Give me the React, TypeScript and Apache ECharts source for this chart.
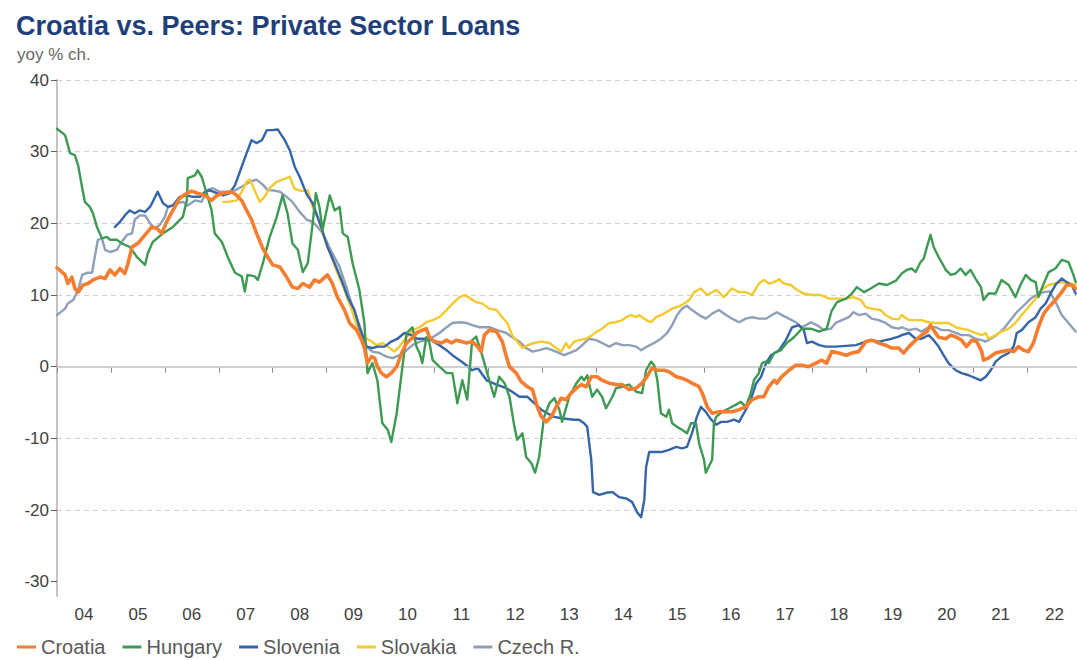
import React, { useEffect, useRef } from "react";
import * as echarts from "echarts";

// x values are months since Jan 2004 (0 = Jan 2004)
const YEARS = ["04", "05", "06", "07", "08", "09", "10", "11", "12", "13", "14", "15", "16", "17", "18", "19", "20", "21", "22"];
const MONTHS = ["01", "02", "03", "04", "05", "06", "07", "08", "09", "10", "11", "12"];
const Y_TICKS = [-30, -20, -10, 0, 10, 20, 30, 40];
const SERIES_NAMES = ["Croatia", "Hungary", "Slovenia", "Slovakia", "Czech R."];

const croatia: [number, number][] = [
  [0, 13.8], [1.8, 12.8], [2.4, 11.6], [3.3, 12.5], [4, 10.9], [4.7, 10.4], [5.8, 11.4], [6.9, 11.6], [8, 12.1], [9.6, 12.5],
  [10.7, 12.3], [11.8, 13.5], [12.9, 12.8], [14, 13.7], [15.1, 13.0], [15.8, 14.4], [16.7, 16.7], [18, 17.2], [19.6, 18.4], [21.1, 19.5],
  [22.2, 19.3], [23.3, 18.6], [24.4, 20.2], [25.8, 21.8], [27.3, 23.5], [28.9, 24.2], [30, 24.5], [31.3, 24.2], [32.9, 23.9], [34.4, 23.2],
  [35.6, 23.9], [36.9, 24.2], [38.9, 24.4], [40, 23.9], [41.1, 23.2], [42.2, 21.8], [43.3, 20.5], [44.4, 18.6], [45.8, 16.5], [46.9, 15.3],
  [48, 14.2], [49.6, 13.9], [51.1, 12.5], [52.4, 11.1], [53.6, 10.9], [54.7, 11.6], [56.2, 11.1], [57.3, 12.1], [58.4, 11.8], [60.2, 12.8],
  [61.3, 11.6], [62.4, 9.7], [64, 7.9], [65.1, 6.1], [66.7, 5.1], [67.8, 3.7], [68.4, 2.6], [69.1, 0.5], [70, 1.4], [70.7, 1.2],
  [71.3, 0], [72.2, -0.9], [73.3, -1.4], [74.4, -0.9], [75.6, 0], [76.7, 1.9], [77.8, 3.3], [78.9, 3.9], [80, 4.7], [81.3, 5.1],
  [82.2, 5.3], [82.9, 4.1], [84, 3.5], [85.6, 3.3], [86.7, 3.7], [87.8, 3.3], [88.9, 3.7], [90, 3.5], [91.1, 3.3], [92.4, 3.5],
  [93.6, 2.8], [94.4, 2.1], [95.1, 4.4], [96.2, 5.1], [97.8, 4.9], [99.1, 3.5], [100, 1.4], [100.7, 0], [102.2, -0.9], [103.3, -2.1],
  [104.7, -2.8], [105.8, -3.2], [106.9, -5.6], [107.8, -7.0], [108.9, -7.7], [110, -7.0], [111.1, -5.6], [112.2, -4.4], [113.3, -4.6], [114.4, -3.7],
  [115.6, -3.0], [116.7, -2.5], [117.8, -2.8], [118.9, -1.4], [120.2, -1.4], [121.3, -1.9], [122.9, -2.3], [124.4, -2.5], [125.8, -2.5], [127.3, -3.2],
  [128.9, -3.0], [130.2, -2.3], [131.3, -1.4], [132.4, -0.2], [133.6, -0.5], [135.1, -0.5], [136.2, -0.7], [137.8, -1.4], [139.1, -1.6], [140.2, -1.9],
  [141.3, -2.3], [142.9, -2.8], [143.6, -3.7], [144.7, -5.6], [145.8, -6.5], [147.3, -6.3], [148.9, -6.3], [150.2, -6.3], [151.8, -6.0], [153.3, -5.6],
  [154.7, -4.6], [156.2, -4.2], [157.3, -4.2], [158.4, -2.8], [159.6, -1.9], [160.2, -2.3], [161.3, -1.4], [162.9, -0.5], [164.4, 0.2], [165.8, 0.2],
  [167.3, 0], [168.9, 0.5], [170.2, 0.9], [171.3, 0.5], [172.4, 2.1], [174, 1.9], [175.6, 1.6], [176.9, 1.9], [178.4, 2.1], [180, 3.5],
  [181.3, 3.7], [182.9, 3.3], [184.4, 3.0], [185.8, 2.6], [187.3, 2.6], [188.4, 1.9], [189.6, 2.8], [191.1, 3.7], [192.4, 4.4], [193.6, 4.9],
  [194.4, 5.8], [195.1, 5.1], [196.2, 4.1], [197.8, 3.9], [198.9, 4.4], [200.2, 4.1], [201.3, 3.7], [202.4, 2.8], [203.6, 3.7], [204.7, 3.5],
  [205.8, 2.1], [206.2, 0.9], [207.3, 1.2], [208.9, 1.9], [210.2, 2.1], [211.8, 2.3], [212.9, 2.1], [214, 2.8], [215.1, 2.3], [216.2, 2.1],
  [217.3, 3.3], [218.4, 5.5], [219.6, 7.4], [220.7, 8.3], [222.2, 9.3], [223.6, 10.4], [224.7, 11.4], [225.8, 11.4], [226.7, 10.9],
];

const hungary: [number, number][] = [
  [0, 33.2], [1.8, 32.3], [2.9, 29.8], [4, 29.5], [4.7, 28.1], [5.6, 25], [6.2, 23], [7.3, 22.3], [8, 21.4], [8.9, 19.5],
  [10, 17.9], [11.1, 18.1], [11.8, 17.7], [13.3, 17.7], [14.4, 17.2], [16.2, 16.7], [17.8, 15.3], [19.6, 14.2], [20.2, 15.8], [21.3, 17.4],
  [23.6, 18.6], [25.8, 19.5], [28, 20.9], [28.9, 23.2], [29.1, 26.3], [30.7, 26.7], [31.3, 27.4], [32.2, 26.5], [33.3, 24.2], [34.4, 21.8],
  [35.1, 18.6], [36.7, 17.4], [38, 15.3], [39.6, 13.1], [41.1, 12.6], [41.8, 10.5], [42.4, 12.8], [44, 12.6], [44.7, 12.1], [45.8, 14.4],
  [47.3, 18], [48.9, 20.9], [50.2, 23.9], [51.3, 21.4], [52.4, 17.2], [53.6, 16.3], [54.7, 13.2], [55.8, 14.4], [56.9, 20], [57.6, 24.2],
  [58.4, 22.3], [59.1, 19.1], [60, 21.8], [60.7, 23.9], [61.8, 21.8], [62.9, 22.3], [63.6, 18.6], [64.7, 18.1], [65.8, 14.4], [67.3, 10.7],
  [68.4, 6.1], [69.1, -0.9], [70.2, 0.5], [71.3, -1.9], [72.4, -7.9], [73.6, -8.8], [74.4, -10.5], [75.6, -6.5], [76.7, -0.9], [77.8, 4.7],
  [79.1, 5.5], [80, 2.8], [80.7, 1.9], [81.3, 0.5], [82.2, 4.1], [82.9, 3.3], [83.6, 0.9], [85.1, 0], [86.7, -0.9], [88, -0.9],
  [89.1, -5.1], [90.2, -1.9], [91.3, -4.6], [92.4, 3.7], [93.3, 4.2], [94.7, 1.4], [96.2, -1.9], [97.3, -4.2], [98.4, -1.4], [99.6, -2.3],
  [100.7, -4.2], [101.8, -8.4], [102.4, -10.2], [103.6, -9.3], [104.4, -12.6], [105.6, -13.5], [106.4, -14.8], [107.3, -12.6], [108.4, -7], [109.6, -5.1],
  [110.7, -4.4], [111.8, -6], [112.4, -7.7], [114, -4.2], [115.6, -2.3], [116.7, -1.4], [117.3, -1.9], [118, -1.2], [119.1, -4.2], [120.2, -3.2],
  [121.3, -4.2], [122.2, -5.8], [123.6, -4.2], [124.4, -3], [125.8, -2.8], [127.3, -2.5], [128.9, -3.5], [130.2, -3.7], [131.1, -0.5], [132.2, 0.7],
  [132.9, 0.2], [133.6, -1.9], [134.4, -6.5], [135.6, -7], [136.2, -6], [136.9, -7.9], [138, -8.4], [139.1, -8.8], [140.2, -9.3], [141.1, -7.9],
  [142.2, -7.9], [142.9, -10.7], [144, -13], [144.4, -14.8], [145.8, -13], [146.2, -7.9], [146.7, -7], [148, -6.3], [149.6, -5.8], [151.1, -5.3],
  [152.2, -4.9], [153.3, -5.6], [154.4, -3.7], [155.1, -1.9], [156.2, -0.9], [156.9, 0.5], [157.8, 0.7], [158.4, 0.5], [159.6, 1.9], [161.1, 2.3],
  [162.4, 3.3], [164, 4.1], [165.8, 5.3], [167.8, 5.3], [169.6, 4.9], [171.3, 5.3], [172.4, 7.8], [173.6, 9], [175.6, 9.5], [176.9, 10.2],
  [178, 11.1], [179.6, 10.4], [181.1, 10.9], [182.9, 11.6], [184.7, 11.4], [186.7, 12], [188, 13], [189.1, 13.5], [190.2, 13.7], [191.1, 13.2],
  [192.2, 14.6], [192.9, 15.1], [193.6, 16.7], [194.4, 18.4], [195.1, 16.7], [196.2, 15.3], [197.8, 13.5], [198.9, 12.8], [200, 13], [201.1, 13.7],
  [202.2, 12.8], [203.3, 13.5], [204.4, 12.3], [205.6, 11.1], [206.2, 9.3], [207.3, 10.2], [208.9, 10.2], [210.2, 12.1], [211.8, 11.4], [213.3, 9.7],
  [214.4, 11.4], [215.6, 12.8], [216.7, 12.1], [217.8, 11.8], [218.4, 9.7], [219.6, 11.6], [220.7, 13.2], [222.2, 13.7], [223.6, 14.9], [225.1, 14.6],
  [226.2, 12.8], [226.7, 11.8],
];

const slovenia: [number, number][] = [
  [12.9, 19.5], [14, 20.2], [15.1, 21.1], [16.2, 21.8], [17.3, 21.4], [18.4, 21.8], [19.6, 21.6], [20.7, 22.3], [21.3, 23.0], [22.4, 24.4],
  [23.6, 22.8], [24.7, 22.3], [25.8, 22.5], [27.3, 23.7], [28.9, 23.9], [30.2, 23.7], [31.8, 23.7], [32.9, 24.4], [34, 24.6], [35.6, 24.2],
  [36.9, 23.9], [38.4, 24.2], [39.6, 25.3], [40.7, 27.2], [42.2, 29.8], [43.3, 31.6], [44.4, 31.2], [45.6, 31.6], [46.7, 33.0], [48, 33.0],
  [49.1, 33.1], [50.7, 31.6], [51.8, 30.2], [52.9, 27.9], [54, 26.5], [55.6, 24], [56.9, 22.8], [58.9, 19.3], [60.2, 16.7], [61.8, 14.4],
  [63.3, 12.1], [64.7, 9.7], [66.2, 7.9], [67.3, 5.5], [68.9, 2.8], [70.2, 2.6], [71.3, 2.8], [72.9, 2.8], [74.4, 3.5], [75.8, 3.9],
  [77.3, 4.7], [78.9, 4.4], [80.2, 3.9], [81.8, 3.9], [83.3, 3.7], [85.1, 3.0], [86.7, 2.3], [88, 1.6], [89.6, 0.9], [91.1, 0.2],
  [92.4, -0.5], [93.6, -0.2], [94, -0.5], [95.6, -1.9], [97.8, -2.5], [100, -3.0], [101.3, -3.5], [102.9, -4.2], [104.7, -4.2], [106.2, -5.1],
  [107.8, -6.0], [109.1, -6.5], [110.7, -7.0], [112.2, -7.2], [113.6, -7.3], [115.1, -7.4], [116.2, -7.4], [117.3, -7.9], [118, -8.4], [118.9, -13],
  [119.3, -17.5], [120.7, -17.9], [122.2, -17.6], [123.6, -17.5], [125.1, -18.2], [126.7, -18.4], [128, -18.9], [129.1, -20.3], [130, -21.0], [130.7, -18.6],
  [131.1, -14.0], [131.8, -11.9], [133.3, -11.9], [134.7, -11.9], [136.2, -11.6], [137.8, -11.2], [139.1, -11.4], [140.2, -11.2], [141.3, -9.3], [142.4, -7.0],
  [143.3, -5.6], [144.4, -6.3], [145.6, -7.4], [146.7, -8.1], [147.8, -7.7], [149.1, -7.7], [150.7, -7.4], [151.8, -7.7], [153.3, -6.0], [154.4, -4.6],
  [155.6, -2.3], [156.7, -1.4], [157.8, 0.5], [158.9, 1.6], [160.7, 2.3], [162.2, 3.7], [163.6, 5.5], [165.1, 5.8], [166.2, 5.1], [166.9, 3.3],
  [168, 3.5], [169.6, 3.0], [171.1, 2.8], [173.3, 2.8], [175.6, 2.9], [177.8, 3.0], [179.1, 3.3], [181.3, 3.7], [182.9, 3.5], [184.4, 3.7],
  [185.8, 3.9], [187.3, 4.2], [188, 4.4], [189.6, 4.7], [191.1, 3.9], [192.4, 3.9], [194, 4.4], [195.1, 3.7], [196.2, 2.8], [197.3, 1.6],
  [198.4, 0.5], [200, -0.5], [201.3, -0.9], [202.9, -1.2], [204.4, -1.6], [205.6, -1.9], [206.7, -1.4], [207.8, -0.5], [208.9, 0.7], [210.2, 1.4],
  [211.8, 1.9], [212.9, 2.8], [213.6, 4.7], [214.7, 5.1], [216.2, 6.2], [217.8, 6.9], [218.9, 8.1], [220, 8.8], [221.3, 10.4], [222.4, 11.6],
  [223.6, 12.3], [224.7, 11.8], [225.8, 11.4], [226.7, 10.2],
];

const slovakia: [number, number][] = [
  [37, 23.0], [38, 23.0], [40, 23.2], [41.1, 24.4], [42.2, 25.8], [42.9, 26.1], [44, 24.6], [45.1, 23.0], [46.2, 23.7], [47.3, 24.9],
  [48.9, 25.8], [50.2, 26.1], [51.8, 26.5], [52.9, 24.8], [54.4, 24.5], [55.8, 24.6], [56.9, 22.3], [58.2, 20.5], [59.6, 17.7], [61.1, 15.3],
  [62.4, 13.1], [64, 10.7], [65.6, 7.9], [66.9, 5.5], [68.4, 4.1], [70, 3.5], [71.1, 3.0], [72.4, 3.3], [74, 2.6], [75.1, 2.1],
  [76.2, 2.8], [77.8, 4.1], [79.1, 5.1], [80.7, 5.5], [82.2, 6.2], [83.6, 6.5], [85.1, 6.9], [86.7, 7.9], [88, 8.8], [89.6, 9.7],
  [90.7, 10.0], [91.8, 9.6], [93.3, 9.0], [94.7, 8.8], [96.2, 8.1], [97.8, 7.9], [99.1, 6.9], [100.2, 6.1], [101.3, 4.4], [102.4, 3.5],
  [103.6, 2.6], [104.7, 3.0], [106.2, 3.3], [107.8, 3.5], [109.6, 3.3], [111.1, 2.6], [112.2, 2.1], [113.3, 3.3], [114, 2.6], [115.1, 3.5],
  [116.2, 3.7], [117.8, 3.9], [119.1, 4.4], [120.2, 4.9], [121.3, 5.3], [122.9, 6.1], [124.4, 6.2], [125.8, 6.5], [126.7, 6.9], [127.8, 7.2],
  [128.9, 6.9], [129.6, 7.2], [130.2, 6.9], [131.1, 6.5], [132.2, 6.2], [133.3, 6.9], [134.4, 7.2], [135.6, 7.6], [136.9, 8.1], [138.4, 8.4],
  [139.6, 8.8], [140.7, 9.3], [141.8, 10.4], [143.3, 10.9], [144.7, 10.0], [146.7, 10.7], [148.4, 9.7], [150.2, 10.9], [151.8, 10.4], [153.3, 10.4],
  [154.7, 10.0], [156.2, 11.6], [157.3, 12.1], [158.4, 11.6], [159.6, 11.8], [160.7, 12.2], [161.8, 11.6], [163.3, 11.4], [164.7, 10.7], [166.2, 10.2],
  [168, 10.0], [170, 10.0], [171.8, 9.5], [173.6, 9.5], [175.6, 9.5], [177.3, 9.7], [178.9, 9.3], [180, 8.3], [181.3, 8.1], [183.3, 7.9],
  [184.4, 7.2], [185.8, 6.7], [187.3, 6.6], [188, 7.2], [189.6, 6.5], [191.1, 6.5], [192.4, 6.5], [194, 6.2], [195.6, 6.1], [196.9, 6.1],
  [198.4, 6.1], [200, 5.5], [201.3, 5.3], [202.9, 5.1], [204.4, 4.7], [205.8, 4.4], [206.7, 4.7], [207.3, 3.9], [208.9, 4.4], [210.2, 4.9],
  [211.8, 5.3], [213.3, 6.1], [214.7, 7.2], [216.2, 8.3], [217.8, 9.5], [219.1, 10.7], [220.7, 11.4], [222.2, 11.6], [223.6, 11.8], [225.1, 11.6],
  [226.7, 11.4],
];

const czech: [number, number][] = [
  [0, 7.2], [1.8, 8.1], [2.4, 8.8], [3.6, 9.3], [4.7, 10.7], [5.6, 12.8], [6.7, 13.1], [7.8, 13.1], [8.4, 15.3], [9.1, 17.7],
  [10, 17.9], [10.7, 16.3], [11.8, 16.0], [13.3, 16.3], [14.4, 17.4], [15.6, 18.4], [16.7, 18.6], [17.3, 20.5], [18.4, 21.1], [19.6, 21.1],
  [20.7, 20.0], [21.8, 19.3], [22.9, 19.8], [24, 20.9], [24.7, 22.3], [25.8, 22.5], [26.9, 22.8], [28, 23.0], [29.1, 22.5], [30.7, 23.2],
  [32.2, 23.0], [33.3, 24.6], [34.7, 24.9], [36.2, 24.4], [37.8, 24.4], [39.6, 24.6], [41.1, 25.1], [42.9, 25.8], [44.4, 26.1], [45.8, 25.4],
  [46.9, 24.6], [48, 24.6], [49.6, 24.4], [51.1, 23.7], [52.4, 23.0], [54, 21.6], [55.6, 20.5], [56.9, 20.2], [58, 19.5], [59.1, 18.6],
  [60.2, 17.2], [61.3, 15.8], [62.9, 13.9], [64.4, 11.1], [65.8, 8.3], [67.3, 5.8], [68.9, 2.8], [70.2, 2.1], [71.8, 1.9], [73.3, 1.4],
  [74.7, 1.2], [76.2, 1.6], [77.8, 2.3], [79.1, 3.0], [80.7, 3.5], [82.2, 3.7], [83.6, 4.1], [85.1, 4.7], [86.7, 5.5], [88, 6.1],
  [89.6, 6.2], [91.1, 6.1], [92.4, 5.8], [94, 5.5], [96.2, 5.5], [98, 5.1], [100, 4.7], [101.3, 4.1], [102.9, 3.5], [104.4, 2.6],
  [105.8, 2.1], [107.3, 2.3], [108.9, 2.6], [110.2, 2.3], [111.8, 1.9], [112.9, 1.6], [114, 1.9], [115.6, 2.3], [116.9, 3.0], [118.4, 3.9],
  [120, 3.7], [121.3, 3.3], [122.9, 2.8], [124.4, 3.3], [125.8, 3.0], [127.3, 3.0], [128.9, 2.8], [130, 2.3], [131.3, 2.8], [132.9, 3.3],
  [134.4, 3.9], [135.8, 4.7], [136.9, 5.8], [138, 7.2], [139.1, 8.1], [140.2, 8.5], [141.3, 7.9], [142.9, 7.2], [144.4, 6.7], [145.8, 7.4],
  [147.3, 7.9], [148.9, 7.2], [150.2, 6.7], [151.8, 6.2], [153.3, 6.7], [154.7, 6.9], [156.2, 6.7], [157.8, 6.7], [159.1, 7.2], [160.2, 7.6],
  [161.3, 7.2], [162.9, 6.7], [164.4, 6.2], [165.6, 5.5], [166.7, 5.8], [167.8, 6.2], [169.1, 5.8], [170.7, 5.1], [172.2, 5.3], [173.3, 6.1],
  [174.7, 6.5], [176.2, 6.9], [177.3, 7.6], [178.4, 7.2], [180, 7.4], [181.3, 6.7], [182.9, 6.5], [184.4, 6.1], [185.8, 5.5], [187.3, 5.3],
  [188, 5.5], [189.6, 5.1], [191.1, 5.3], [192.4, 4.9], [194, 5.5], [195.6, 5.5], [196.9, 5.1], [198.4, 5.1], [200, 4.7], [201.3, 4.4],
  [202.9, 4.4], [204.4, 3.9], [205.8, 3.7], [206.7, 3.5], [207.8, 3.9], [209.1, 4.4], [210.7, 5.3], [212.2, 6.5], [213.6, 7.6], [215.1, 8.5],
  [216.7, 9.5], [218, 10.0], [219.6, 10.4], [220.9, 10.5], [222.4, 8.8], [223.6, 7.2], [225.1, 6.1], [226.7, 4.9],
];

const FONT = "'Liberation Sans', Arial, Helvetica, sans-serif";

export default function App() {
  const ref = useRef<HTMLDivElement>(null);

  useEffect(() => {
    document.body.style.margin = "0";
    if (!ref.current) return;
    const chart = echarts.init(ref.current, null, { renderer: "svg" });
    const categories = YEARS.flatMap((y) => MONTHS.map((m) => `${y}-${m}`));
    const lastIndex = categories.length - 1;

    const mk = (name: string, data: [number, number][], color: string, width: number, z: number, extra: any = {}) => ({
      name,
      type: "line",
      xAxisIndex: 1,
      yAxisIndex: 0,
      data,
      symbol: "none",
      showSymbol: false,
      smooth: false,
      z,
      lineStyle: { color, width, cap: "round", join: "round" },
      itemStyle: { color },
      emphasis: { disabled: true },
      ...extra,
    });

    chart.setOption({
      animation: false,
      textStyle: { fontFamily: FONT },
      title: [
        {
          text: "Croatia vs. Peers: Private Sector Loans",
          left: 11,
          top: 7,
          textStyle: { fontFamily: FONT, fontSize: 27, fontWeight: "bold", color: "#1F3F7A" },
        },
        {
          text: "yoy % ch.",
          left: 12,
          top: 41,
          textStyle: { fontFamily: FONT, fontSize: 17, fontWeight: "normal", color: "#666666" },
        },
      ],
      legend: {
        data: SERIES_NAMES,
        left: 12,
        top: 631,
        itemWidth: 19,
        itemHeight: 10,
        itemGap: 17,
        icon: "path://M0,4 L19,4 L19,7 L0,7 Z",
        textStyle: { fontFamily: FONT, fontSize: 20, lineHeight: 22, color: "#595959" },
      },
      grid: { left: 57, right: 0, top: 80, bottom: 64, containLabel: false },
      xAxis: [
        {
          type: "category",
          data: categories,
          boundaryGap: false,
          axisLine: { show: true, lineStyle: { color: "#c4c4c4", width: 2 } },
          axisTick: {
            show: true,
            length: 6,
            interval: (i: number) => i % 12 === 0,
            lineStyle: { color: "#8a8a8a", width: 1 },
          },
          axisLabel: {
            interval: (i: number) => i % 12 === 6,
            formatter: (v: string) => v.split("-")[0],
            fontFamily: FONT,
            fontSize: 17,
            color: "#404040",
            margin: 10,
          },
          splitLine: { show: false },
        },
        {
          type: "value",
          min: 0,
          max: lastIndex,
          show: false,
          splitLine: { show: false },
        },
      ],
      yAxis: {
        type: "value",
        min: -32,
        max: 40,
        splitNumber: 7,
        axisLine: { show: true, lineStyle: { color: "#c4c4c4", width: 2 } },
        axisTick: { show: true, length: 6, customValues: Y_TICKS, lineStyle: { color: "#606060" } },
        axisLabel: { customValues: Y_TICKS, fontFamily: FONT, fontSize: 17, color: "#404040", margin: 8 },
        splitLine: { show: true, showMinLine: false, lineStyle: { color: "#d0d0d0", type: [5, 4], width: 1 } },
      },
      series: [
        mk("Czech R.", czech, "#8E9FB8", 2.4, 2, {
          markLine: {
            silent: true,
            symbol: "none",
            label: { show: false },
            lineStyle: { color: "#d6d6d6", type: "solid", width: 1.5 },
            data: [{ yAxis: 0 }],
          },
        }),
        mk("Slovakia", slovakia, "#F3C92E", 2.4, 3),
        mk("Slovenia", slovenia, "#3565A8", 2.4, 4),
        mk("Hungary", hungary, "#3C9A52", 2.4, 5),
        mk("Croatia", croatia, "#F47D30", 3.6, 6),
      ],
    });

    return () => chart.dispose();
  }, []);

  return <div ref={ref} style={{ width: 1077, height: 660 }} />;
}
